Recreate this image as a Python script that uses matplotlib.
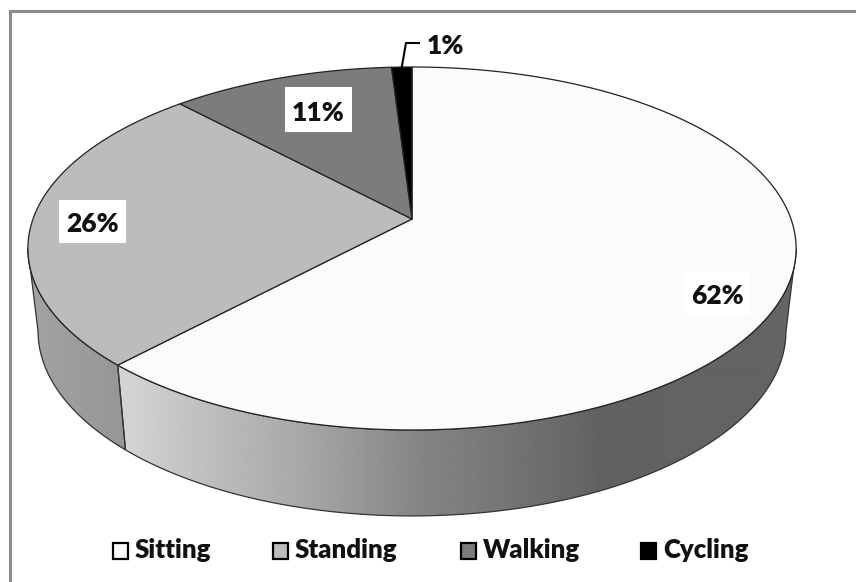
import numpy as np
import matplotlib
matplotlib.use('Agg')
import matplotlib.pyplot as plt
from matplotlib.patches import Polygon, Rectangle

categories = ['Sitting', 'Standing', 'Walking', 'Cycling']
shares = [62, 26, 11, 1]
pct_labels = ['62%', '26%', '11%', '1%']

face_colors = ['#fbfbfb', '#bcbcbc', '#7c7c7c', '#000000']

plt.rcParams['font.family'] = ['Lato', 'DejaVu Sans']

# pie perspective, all in pixels of the 856x582 image
CX = 412
K = 0.1625
TOP_Y, TOP_RX, TOP_RY = 219, 379, 176.7
LOW_Y, LOW_RX, LOW_RY = 301, 369, 180


def top_ring(t):
    w = 1 + K * np.cos(t)
    return CX + TOP_RX * np.sin(t) / w, TOP_Y - TOP_RY * np.cos(t) / w


def low_ring(t):
    w = 1 + K * np.cos(t)
    return CX + LOW_RX * np.sin(t) / w, LOW_Y - LOW_RY * np.cos(t) / w


def side_poly(t0, t1):
    t = np.linspace(t0, t1, 200)
    x1, y1 = top_ring(t)
    x2, y2 = low_ring(t[::-1])
    return np.column_stack([np.r_[x1, x2], np.r_[y1, y2]])


def side_gradient(ax, t0, t1, xs, greys):
    poly = Polygon(side_poly(t0, t1), closed=True, fc='none', ec='none')
    ax.add_patch(poly)
    grad = np.interp(np.arange(0, 856), xs, greys).reshape(1, -1)
    im = ax.imshow(grad, cmap='gray', vmin=0, vmax=255, extent=(0, 856, 582, 0),
                   aspect='auto', zorder=1, interpolation='bilinear')
    im.set_clip_path(poly)
    edge = Polygon(side_poly(t0, t1), closed=True, fc='none', ec='#333333', lw=0.9, zorder=2)
    ax.add_patch(edge)


fig = plt.figure(figsize=(8.56, 5.82), dpi=100)
ax = fig.add_axes([0, 0, 1, 1])
ax.set_xlim(0, 856)
ax.set_ylim(582, 0)
ax.axis('off')

# chart frame
ax.add_patch(Rectangle((10, 11), 860, 600, fc='white', ec='#8c8c8c', lw=2.2, zorder=0))

angles = 2 * np.pi * np.cumsum([0] + shares) / sum(shares)

# side walls
t_right = np.radians(99.4)
t_left = np.radians(260.6)
side_gradient(ax, angles[1], t_left, [30, 125], [162, 150])
side_gradient(ax, t_right, angles[1], [125, 200, 300, 412, 500, 600, 800],
              [212, 192, 168, 135, 118, 98, 100])

# top faces
for i in range(len(shares)):
    t = np.linspace(angles[i], angles[i + 1], 300)
    x, y = top_ring(t)
    pts = np.column_stack([np.r_[CX, x], np.r_[TOP_Y, y]])
    ax.add_patch(Polygon(pts, closed=True, fc=face_colors[i], ec='#222222', lw=0.9,
                         joinstyle='round', zorder=3))

# data labels, white boxes first
label_boxes = [(684, 272, 66, 43), (59, 200, 67, 43), (285, 87, 67, 45)]
label_base = [(717, 304), (92.5, 232), (318.5, 121)]
for txt, (bx, by, bw, bh), (lx, ly) in zip(pct_labels[:3], label_boxes, label_base):
    ax.add_patch(Rectangle((bx, by), bw, bh, fc='white', ec='none', zorder=4))
    ax.text(lx, ly, txt, ha='center', va='baseline', fontsize=19, fontweight='heavy',
            color='#111111', zorder=5)
ax.text(445, 54, pct_labels[3], ha='center', va='baseline', fontsize=19, fontweight='heavy',
        color='#111111', zorder=5)
x_tip, y_tip = top_ring((angles[3] + angles[4]) / 2)
ax.plot([x_tip, 406, 419], [y_tip, 43, 43], color='black', lw=1.5, zorder=4)

# legend
leg_x = [112, 272, 460, 640]
for name, col, x0 in zip(categories, face_colors, leg_x):
    ax.add_patch(Rectangle((x0 + 1, 543), 15, 16, fc=col, ec='black', lw=1.6, zorder=4))
    ax.text(x0 + 23, 558, name, ha='left', va='baseline', fontsize=18.5, fontweight='heavy',
            color='#111111', zorder=5)

fig.savefig('out.png', dpi=100)
